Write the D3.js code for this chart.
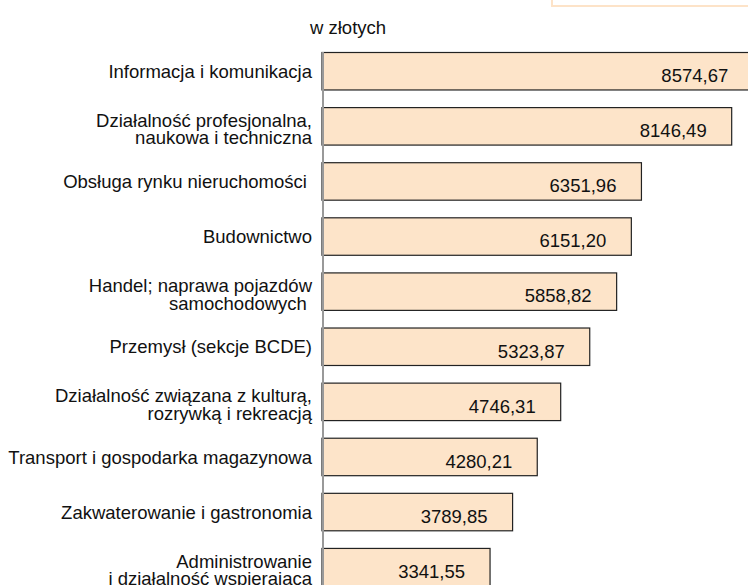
<!DOCTYPE html>
<html><head><meta charset="utf-8">
<script src="https://cdn.jsdelivr.net/npm/d3@7"></script>
<style>
body{margin:0;background:#fff;}
svg{display:block;font-family:"Liberation Sans",Arial,sans-serif;}
text{white-space:pre;}
</style></head>
<body><svg id="c" width="748" height="585"></svg>
<script>
const categories = [
  ["Informacja i komunikacja"],
  ["Działalność profesjonalna,", "naukowa i techniczna"],
  ["Obsługa rynku nieruchomości "],
  ["Budownictwo"],
  ["Handel; naprawa pojazdów", "samochodowych "],
  ["Przemysł (sekcje BCDE)"],
  ["Działalność związana z kulturą,", "rozrywką i rekreacją"],
  ["Transport i gospodarka magazynowa"],
  ["Zakwaterowanie i gastronomia"],
  ["Administrowanie", "i działalność wspierająca"]
];
const values = [8574.67, 8146.49, 6351.96, 6151.20, 5858.82, 5323.87, 4746.31, 4280.21, 3789.85, 3341.55];
const unitLabel = "w złotych";

const svg = d3.select("#c");
const fmt = v => v.toFixed(2).replace(".", ",");
const keys = categories.map((c, i) => i);

const x = d3.scaleLinear().domain([0, 10000]).range([322, 824.9]);
const y = d3.scaleBand().domain(keys).range([52.5, 585.9]).paddingInner(0.32).paddingOuter(0);

// partial legend box top right
svg.append("rect").attr("x", 552).attr("y", -20).attr("width", 220).attr("height", 26)
  .attr("fill", "none").attr("stroke", "#fde3c8").attr("stroke-width", 2);

svg.append("text").attr("x", 310).attr("y", 33.5).attr("font-size", 18.5).attr("fill", "#111").text(unitLabel);

svg.selectAll("rect.bar").data(values).join("rect").attr("class", "bar")
  .attr("x", x(0)).attr("y", (d, i) => y(i))
  .attr("width", d => x(d) - x(0)).attr("height", y.bandwidth())
  .attr("fill", "#fde4c9").attr("stroke", "#222").attr("stroke-width", 1.2);

svg.selectAll("text.val").data(values).join("text").attr("class", "val")
  .attr("x", d => x(d) - 25).attr("y", (d, i) => y(i) + 29.5)
  .attr("text-anchor", "end").attr("font-size", 18.5).attr("fill", "#111")
  .text(fmt);

const lab = svg.selectAll("text.cat").data(categories).join("text").attr("class", "cat")
  .attr("text-anchor", "end").attr("font-size", 18.5).attr("fill", "#111");
lab.each(function(lines, i) {
  const cy = y(i) + y.bandwidth() / 2;
  const t = d3.select(this);
  const base = lines.length === 1 ? cy + 6.6 : cy + 0.5;
  lines.forEach((l, j) => {
    t.append("tspan").attr("x", 312).attr("y", base + j * 17.6).text(l);
  });
});

// axis line
svg.append("line").attr("x1", 323).attr("x2", 323).attr("y1", 52).attr("y2", 585)
  .attr("stroke", "#999").attr("stroke-width", 2);
</script></body></html>
